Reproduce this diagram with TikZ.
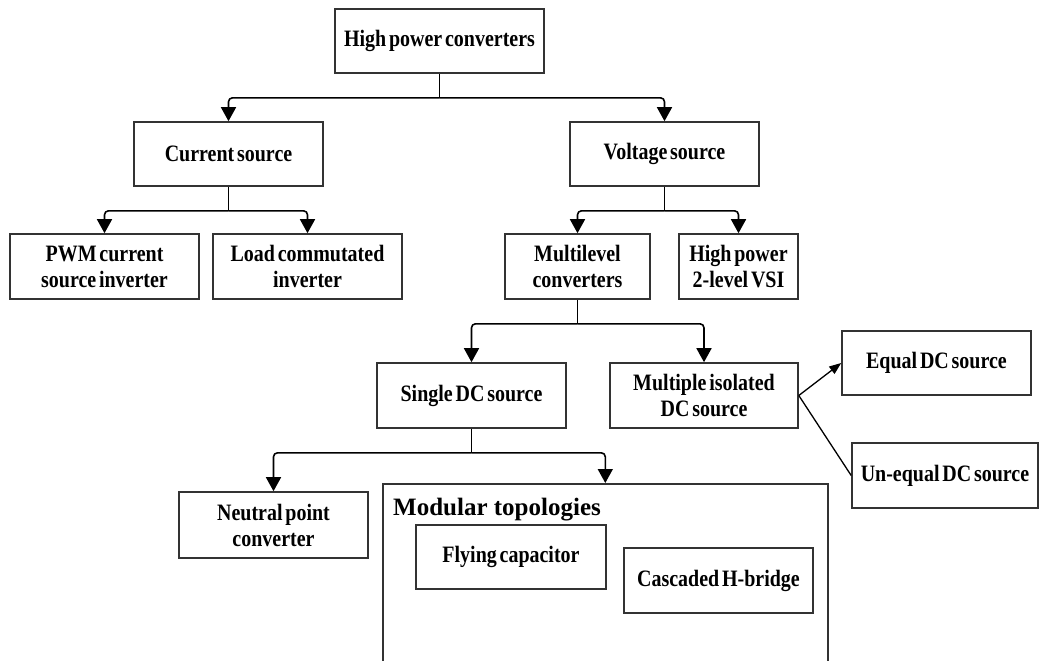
\documentclass[tikz,border=0pt]{standalone}
\usepackage{fontspec}
\setmainfont{Liberation Serif}
\newfontfamily\narrowserif[FakeStretch=0.85]{Liberation Serif}
\usepackage{tikz}
\usetikzlibrary{arrows.meta}

\newcommand{\boxfont}{\narrowserif\bfseries\fontsize{23.5}{26}\selectfont\setlength{\spaceskip}{0.12em}}

\begin{document}
\begin{tikzpicture}[x=1pt, y=-1pt,
    box/.style={draw=black!80, line width=1.6pt, align=center, inner sep=2pt, font=\boxfont},
    conn/.style={line width=1.6pt, rounded corners=4pt, -{Triangle[width=15pt,length=14pt]}},
    thin conn/.style={line width=1.3pt}]
    \useasboundingbox (0,0) rectangle (1039,661);
    \clip (0,0) rectangle (1039,661);

    % Boxes
    \node[box, minimum width=209pt, minimum height=64pt] (hpc) at (439.5,41) {High power converters};
    \node[box, minimum width=189pt, minimum height=64pt] (cs) at (228.5,154) {Current source};
    \node[box, minimum width=189pt, minimum height=64pt] (vs) at (664.5,154) {Voltage source};
    \node[box, minimum width=189pt, minimum height=65pt] (pwm) at (104.5,266.5) {PWM current\\source inverter};
    \node[box, minimum width=189pt, minimum height=65pt] (lci) at (307.5,266.5) {Load commutated\\inverter};
    \node[box, minimum width=145pt, minimum height=65pt] (mlc) at (577.5,266.5) {Multilevel\\converters};
    \node[box, minimum width=119pt, minimum height=65pt] (vsi) at (738.5,266.5) {High power\\2-level VSI};
    \node[box, minimum width=189pt, minimum height=65pt] (sdc) at (471.5,395.5) {Single DC source};
    \node[box, minimum width=188pt, minimum height=65pt] (midc) at (704,395.5) {Multiple isolated\\DC source};
    \node[box, minimum width=189pt, minimum height=64pt] (eq) at (936.5,363) {Equal DC source};
    \node[box, minimum width=186pt, minimum height=65pt] (uneq) at (945,475.5) {Un-equal DC source};
    \node[box, minimum width=189pt, minimum height=66pt] (npc) at (273.5,525) {Neutral point\\converter};

    % Modular topologies
    \node[box, minimum width=445pt, minimum height=230pt, anchor=north west] (mod) at (382,483) {};
    \node[anchor=base west, inner sep=0pt, font=\bfseries\fontsize{25}{28}\selectfont] (modlbl) at (393,515) {Modular topologies};
    \node[box, minimum width=190pt, minimum height=64pt] (fc) at (511,557) {Flying capacitor};
    \node[box, minimum width=189pt, minimum height=65pt] (chb) at (718.5,580.5) {Cascaded H-bridge};

    % Connectors
    \draw[line width=1.6pt] (hpc.south) -- ++(0,24) coordinate (s1);
    \draw[conn] (s1) -| (cs.north);
    \draw[conn] (s1) -| (vs.north);

    \draw[line width=1.6pt] (cs.south) -- ++(0,24) coordinate (s2);
    \draw[conn] (s2) -| (pwm.north);
    \draw[conn] (s2) -| (lci.north);

    \draw[line width=1.6pt] (vs.south) -- ++(0,24) coordinate (s3);
    \draw[conn] (s3) -| (mlc.north);
    \draw[conn] (s3) -| (vsi.north);

    \draw[line width=1.6pt] (mlc.south) -- ++(0,24) coordinate (s4);
    \draw[conn] (s4) -| (sdc.north);
    \draw[conn] (s4) -| (midc.north);

    \draw[line width=1.6pt] (sdc.south) -- ++(0,24) coordinate (s5);
    \draw[conn] (s5) -| (npc.north);
    \draw[conn] (s5) -| (mod.north);

    % Isolated sources
    \draw[thin conn, -{Triangle[width=9pt,length=12pt]}] (midc.east) -- (eq.west);
    \draw[thin conn] (midc.east) -- (uneq.west);
\end{tikzpicture}
\end{document}
